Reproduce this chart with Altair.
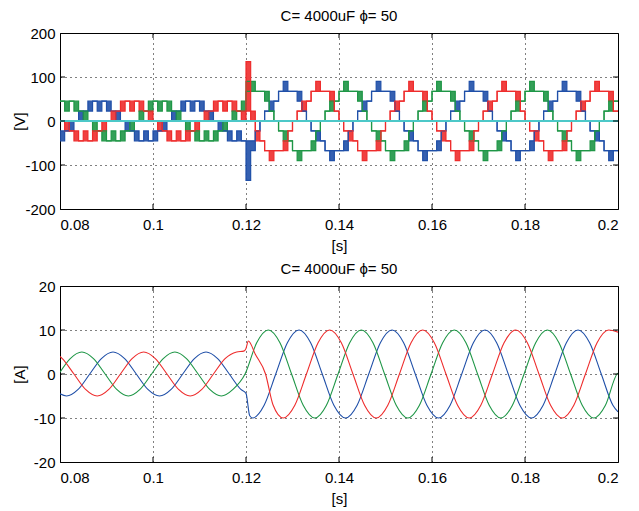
import altair as alt
import pandas as pd

# ---------------- data ----------------
TITLE = "C= 4000uF ϕ= 50"
x_ticks = [0.08, 0.1, 0.12, 0.14, 0.16, 0.18, 0.2]
v_ticks = [-200, -100, 0, 100, 200]
i_ticks = [-20, -10, 0, 10, 20]

# phase voltages: level codes per 1 ms slot starting at 0.080 s (one level = 22.5 V)
T0 = 0.080
SLOT = 0.001
LEVEL = 22.5

green_lo = [
    2, 1, 2, 1, 1, 0, 0, -1, -1, -2, -2, -2, -2, -2, -1, -1, 0, 0, 1, 1,
    2, 1, 2, 1, 1, 0, 0, -1, -1, -2, -2, -2, -2, -2, -1, -1, 0, 0, 1, 1,
    3,
    3, 3, 3, 2, 1, 0, -1, -2, -2, -3, -4, -3, -3, -3, -1, 0, 1, 1, 2, 3,
    3, 3, 3, 2, 1, 0, -1, -2, -2, -3, -4, -3, -3, -3, -1, 0, 1, 1, 2, 3,
    3, 3, 3, 2, 1, 0, -1, -2, -2, -3, -4, -3, -3, -3, -1, 0, 1, 1, 2, 3,
    3, 3, 3, 2, 1, 0, -1, -2, -2, -3, -4, -3, -3, -3, -1, 0, 1, 1, 2]
green_hi = [
    2, 2, 2, 2, 1, 1, 0, 0, -1, -1, -2, -1, -2, -1, -1, 0, 0, 1, 1, 2,
    2, 2, 2, 2, 1, 1, 0, 0, -1, -1, -2, -1, -2, -1, -1, 0, 0, 1, 1, 2,
    4,
    4, 3, 3, 3, 1, 0, -1, -1, -2, -3, -3, -3, -3, -2, -1, 0, 1, 2, 2, 3,
    4, 3, 3, 3, 1, 0, -1, -1, -2, -3, -3, -3, -3, -2, -1, 0, 1, 2, 2, 3,
    4, 3, 3, 3, 1, 0, -1, -1, -2, -3, -3, -3, -3, -2, -1, 0, 1, 2, 2, 3,
    4, 3, 3, 3, 1, 0, -1, -1, -2, -3, -3, -3, -3, -2, -1, 0, 1, 2, 2]

blue_lo = [
    -2, -1, -1, 0, 0, 1, 1, 2, 1, 2, 1, 1, 0, 0, -1, -1, -2, -2, -2, -2,
    -2, -1, -1, 0, 0, 1, 1, 2, 1, 2, 1, 1, 0, 0, -1, -1, -2, -2, -2, -2,
    -6,
    -3, -1, 0, 1, 1, 2, 3, 3, 3, 3, 2, 1, 0, -1, -2, -2, -3, -4, -3, -3,
    -3, -1, 0, 1, 1, 2, 3, 3, 3, 3, 2, 1, 0, -1, -2, -2, -3, -4, -3, -3,
    -3, -1, 0, 1, 1, 2, 3, 3, 3, 3, 2, 1, 0, -1, -2, -2, -3, -4, -3, -3,
    -3, -1, 0, 1, 1, 2, 3, 3, 3, 3, 2, 1, 0, -1, -2, -2, -3, -4, -3]
blue_hi = [
    -1, -1, 0, 0, 1, 1, 2, 2, 2, 2, 2, 1, 1, 0, 0, -1, -1, -2, -1, -2,
    -1, -1, 0, 0, 1, 1, 2, 2, 2, 2, 2, 1, 1, 0, 0, -1, -1, -2, -1, -2,
    -2,
    -2, -1, 0, 1, 2, 2, 3, 4, 3, 3, 3, 1, 0, -1, -1, -2, -3, -3, -3, -3,
    -2, -1, 0, 1, 2, 2, 3, 4, 3, 3, 3, 1, 0, -1, -1, -2, -3, -3, -3, -3,
    -2, -1, 0, 1, 2, 2, 3, 4, 3, 3, 3, 1, 0, -1, -1, -2, -3, -3, -3, -3,
    -2, -1, 0, 1, 2, 2, 3, 4, 3, 3, 3, 1, 0, -1, -1, -2, -3, -3, -3]

red_lo = [
    0, -1, -1, -2, -2, -2, -2, -2, -1, -1, 0, 0, 1, 1, 2, 1, 2, 1, 1, 0,
    0, -1, -1, -2, -2, -2, -2, -2, -1, -1, 0, 0, 1, 1, 2, 1, 2, 1, 1, 0,
    1,
    0, -2, -2, -3, -4, -3, -3, -3, -1, 0, 1, 1, 2, 3, 3, 3, 3, 2, 1, 0,
    -1, -2, -2, -3, -4, -3, -3, -3, -1, 0, 1, 1, 2, 3, 3, 3, 3, 2, 1, 0,
    -1, -2, -2, -3, -4, -3, -3, -3, -1, 0, 1, 1, 2, 3, 3, 3, 3, 2, 1, 0,
    -1, -2, -2, -3, -4, -3, -3, -3, -1, 0, 1, 1, 2, 3, 3, 3, 3, 2, 1]
red_hi = [
    0, 0, -1, -1, -2, -1, -2, -1, -1, 0, 0, 1, 1, 2, 2, 2, 2, 2, 1, 1,
    0, 0, -1, -1, -2, -1, -2, -1, -1, 0, 0, 1, 1, 2, 2, 2, 2, 2, 1, 1,
    6,
    1, -1, -2, -3, -3, -3, -3, -2, -1, 0, 1, 2, 2, 3, 4, 3, 3, 3, 1, 0,
    -1, -1, -2, -3, -3, -3, -3, -2, -1, 0, 1, 2, 2, 3, 4, 3, 3, 3, 1, 0,
    -1, -1, -2, -3, -3, -3, -3, -2, -1, 0, 1, 2, 2, 3, 4, 3, 3, 3, 1, 0,
    -1, -1, -2, -3, -3, -3, -3, -2, -1, 0, 1, 2, 2, 3, 4, 3, 3, 3, 1]

zero_level = [0]

# phase currents [A]
green_i_t = [0.0800, 0.0822, 0.0847, 0.0872, 0.0897, 0.0922, 0.0947, 0.0972, 0.0997, 0.1022,
             0.1047, 0.1072, 0.1097, 0.1122, 0.1147, 0.1172, 0.1198, 0.1223, 0.1248, 0.1273,
             0.1298, 0.1323, 0.1348, 0.1373, 0.1398, 0.1423, 0.1448, 0.1473, 0.1498, 0.1523,
             0.1548, 0.1573, 0.1598, 0.1623, 0.1648, 0.1673, 0.1698, 0.1723, 0.1748, 0.1773,
             0.1798, 0.1823, 0.1848, 0.1873, 0.1898, 0.1923, 0.1948, 0.1973, 0.1998, 0.2000]
green_i = [0.4, 3.5, 5.0, 3.5, 0.0, -3.5, -5.0, -3.5, 0.0, 3.5,
           5.0, 3.5, 0.0, -3.5, -5.0, -3.5, 0.0, 7.1, 10.0, 7.1,
           0.0, -7.1, -10.0, -7.1, 0.0, 7.1, 10.0, 7.1, 0.0, -7.1,
           -10.0, -7.1, 0.0, 7.1, 10.0, 7.1, 0.0, -7.1, -10.0, -7.1,
           0.0, 7.1, 10.0, 7.1, 0.0, -7.1, -10.0, -7.1, 0.0, 0.2]

blue_i_t = [0.0800, 0.0814, 0.0839, 0.0864, 0.0889, 0.0914, 0.0939, 0.0964, 0.0989, 0.1014,
            0.1039, 0.1064, 0.1089, 0.1114, 0.1139, 0.1164, 0.1189, 0.1200, 0.1208, 0.1214,
            0.1239, 0.1264, 0.1289, 0.1314, 0.1339, 0.1364, 0.1389, 0.1414, 0.1439, 0.1464,
            0.1489, 0.1514, 0.1539, 0.1564, 0.1589, 0.1614, 0.1639, 0.1664, 0.1689, 0.1714,
            0.1739, 0.1764, 0.1789, 0.1814, 0.1839, 0.1864, 0.1889, 0.1914, 0.1939, 0.1964,
            0.1989, 0.2000]
blue_i = [-4.5, -5.0, -3.5, 0.0, 3.5, 5.0, 3.5, 0.0, -3.5, -5.0,
          -3.5, 0.0, 3.5, 5.0, 3.5, 0.0, -3.5, -4.4, -9.5, -10.0,
          -7.1, 0.0, 7.1, 10.0, 7.1, 0.0, -7.1, -10.0, -7.1, 0.0,
          7.1, 10.0, 7.1, 0.0, -7.1, -10.0, -7.1, 0.0, 7.1, 10.0,
          7.1, 0.0, -7.1, -10.0, -7.1, 0.0, 7.1, 10.0, 7.1, 0.0,
          -7.1, -8.6]

red_i_t = [0.0800, 0.0805, 0.0830, 0.0855, 0.0880, 0.0905, 0.0930, 0.0955, 0.0980, 0.1005,
           0.1030, 0.1055, 0.1080, 0.1105, 0.1130, 0.1155, 0.1180, 0.1195, 0.1200, 0.1205,
           0.1220, 0.1242, 0.1258, 0.1280, 0.1305, 0.1330, 0.1355, 0.1380, 0.1405, 0.1430,
           0.1455, 0.1480, 0.1505, 0.1530, 0.1555, 0.1580, 0.1605, 0.1630, 0.1655, 0.1680,
           0.1705, 0.1730, 0.1755, 0.1780, 0.1805, 0.1830, 0.1855, 0.1880, 0.1905, 0.1930,
           0.1955, 0.1980, 0.2000]
red_i = [4.0, 3.5, 0.0, -3.5, -5.0, -3.5, 0.0, 3.5, 5.0, 3.5,
         0.0, -3.5, -5.0, -3.5, 0.0, 3.5, 5.0, 5.2, 5.8, 7.5,
         4.5, 0.0, -7.0, -10.0, -7.1, 0.0, 7.1, 10.0, 7.1, 0.0,
         -7.1, -10.0, -7.1, 0.0, 7.1, 10.0, 7.1, 0.0, -7.1, -10.0,
         -7.1, 0.0, 7.1, 10.0, 7.1, 0.0, -7.1, -10.0, -7.1, 0.0,
         7.1, 10.0, 9.5]

# ---------------- styling ----------------
FONT = "Liberation Sans"
FS = 15
W, H = 558, 176
V_COLORS = {"a_blue": "#1f4fa8", "b_green": "#1e9646", "c_red": "#ee2c2c"}
I_COLORS = {"a_blue": "#3a6ec8", "b_green": "#2a9a50", "c_red": "#f04646"}
CYAN = "#4cc8c8"


def slot_rows(lo, hi, phase):
    rows = []
    for k, (a, b) in enumerate(zip(lo, hi)):
        rows.append({"t": round(T0 + SLOT * k, 4), "lo": a * LEVEL, "hi": b * LEVEL, "phase": phase})
    rows.append({"t": 0.2, "lo": lo[-1] * LEVEL, "hi": hi[-1] * LEVEL, "phase": phase})
    return rows


vdf = pd.DataFrame(slot_rows(blue_lo, blue_hi, "a_blue")
                   + slot_rows(green_lo, green_hi, "b_green")
                   + slot_rows(red_lo, red_hi, "c_red"))

idf = pd.concat([
    pd.DataFrame({"t": blue_i_t, "i": blue_i, "phase": "a_blue"}),
    pd.DataFrame({"t": green_i_t, "i": green_i, "phase": "b_green"}),
    pd.DataFrame({"t": red_i_t, "i": red_i, "phase": "c_red"}),
])

x_scale = alt.Scale(domain=[0.08, 0.2], nice=False, zero=False)
x_axis = alt.Axis(values=x_ticks, labelExpr="'' + datum.value", title="[s]",
                  grid=True, gridDash=[1, 4], gridColor="black", gridOpacity=1,
                  ticks=False, domain=False, labelPadding=8, titlePadding=6)


def y_axis(vals, title):
    return alt.Axis(values=vals, labelExpr="'' + datum.value", title=title,
                    grid=True, gridDash=[1, 4], gridColor="black", gridOpacity=1,
                    ticks=False, domain=False, labelPadding=5, titleX=-33)


def color_enc(cmap):
    return alt.Color("phase:N", scale=alt.Scale(domain=list(cmap.keys()), range=list(cmap.values())),
                     legend=None)


v_scale = alt.Scale(domain=[-200, 200], nice=False)
i_scale = alt.Scale(domain=[-20, 20], nice=False)
v_axis = y_axis(v_ticks, "[V]")
i_axis = y_axis(i_ticks, "[A]")

X = alt.X("t:Q", scale=x_scale, axis=x_axis)

v_area = alt.Chart(vdf).mark_area(interpolate="step-after", opacity=0.9, clip=True).encode(
    x=X, y=alt.Y("lo:Q", scale=v_scale, axis=v_axis, stack=None), y2="hi:Q",
    color=color_enc(V_COLORS))
v_lo = alt.Chart(vdf).mark_line(interpolate="step-after", strokeWidth=1.2, clip=True).encode(
    x=X, y=alt.Y("lo:Q", scale=v_scale, axis=v_axis), color=color_enc(V_COLORS))
v_hi = alt.Chart(vdf).mark_line(interpolate="step-after", strokeWidth=1.2, clip=True).encode(
    x=X, y=alt.Y("hi:Q", scale=v_scale, axis=v_axis), color=color_enc(V_COLORS))
v_zero = alt.Chart(pd.DataFrame({"z": zero_level})).mark_rule(color=CYAN, strokeWidth=1.8).encode(
    y=alt.Y("z:Q", scale=v_scale, axis=v_axis))

i_lines = alt.Chart(idf).mark_line(interpolate="monotone", strokeWidth=1.1, clip=True).encode(
    x=X, y=alt.Y("i:Q", scale=i_scale, axis=i_axis), color=color_enc(I_COLORS))

xt = pd.DataFrame({"t": x_ticks[1:-1]})


def inner_ticks(vals, yscale, yaxis):
    yt = pd.DataFrame({"v": vals[1:-1]})
    top = alt.Chart(xt).mark_rule(color="black").encode(x=X, y=alt.value(0), y2=alt.value(5))
    bot = alt.Chart(xt).mark_rule(color="black").encode(x=X, y=alt.value(H), y2=alt.value(H - 5))
    left = alt.Chart(yt).mark_rule(color="black").encode(
        y=alt.Y("v:Q", scale=yscale, axis=yaxis), x=alt.value(0), x2=alt.value(5))
    right = alt.Chart(yt).mark_rule(color="black").encode(
        y=alt.Y("v:Q", scale=yscale, axis=yaxis), x=alt.value(W), x2=alt.value(W - 5))
    return [top, bot, left, right]


title_params = alt.TitleParams(TITLE, font=FONT, fontSize=FS, fontWeight="normal",
                               color="black", offset=2)

top_panel = alt.layer(v_area, v_lo, v_hi, v_zero, *inner_ticks(v_ticks, v_scale, v_axis)).properties(
    width=W, height=H, title=title_params)
bottom_panel = alt.layer(i_lines, *inner_ticks(i_ticks, i_scale, i_axis)).properties(
    width=W, height=H, title=title_params)

chart = alt.vconcat(top_panel, bottom_panel, spacing=7,
                    padding={"left": 3, "top": 0, "right": 5, "bottom": 0}).configure(
    background="white"
).configure_view(
    stroke="black", strokeWidth=1
).configure_axis(
    labelFont=FONT, labelFontSize=FS, labelColor="black",
    titleFont=FONT, titleFontSize=FS, titleFontWeight="normal", titleColor="black"
)

chart.save("out.html", embed_options={"renderer": "svg", "actions": False})
